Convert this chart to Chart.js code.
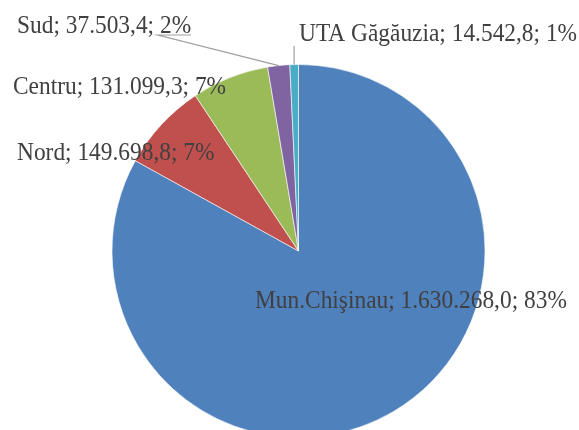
<!DOCTYPE html>
<html>
<head>
<meta charset="utf-8">
<script src="https://cdn.jsdelivr.net/npm/chart.js@4"></script>
<style>
  html, body { margin: 0; padding: 0; background: #fff; overflow: hidden; }
  #wrap { width: 579px; height: 430px; overflow: hidden; }
</style>
</head>
<body>
<div id="wrap"><canvas id="pie" width="579" height="450"></canvas></div>
<script>
// data
const regiuni = ['Mun.Chişinau', 'Nord', 'Centru', 'Sud', 'UTA Găgăuzia'];
const valori = [1630268.0, 149698.8, 131099.3, 37503.4, 14542.8];
const valoriText = ['1.630.268,0', '149.698,8', '131.099,3', '37.503,4', '14.542,8'];
const procente = ['83%', '7%', '7%', '2%', '1%'];
const culori = ['#4f81bd', '#c0504d', '#9bbb59', '#8064a2', '#4bacc6'];

// label placement (left x, baseline y), leader style
const pozitii = [
    { x: 255, y: 308, leader: false },
    { x: 17, y: 160, leader: false },
    { x: 13, y: 94, leader: false },
    { x: 17, y: 33, leader: 'under' },
    { x: 299, y: 41, leader: 'side' }
];

const eticheteProprii = {
    id: 'eticheteProprii',
    afterDatasetsDraw(chart) {
        const ctx = chart.ctx;
        const meta = chart.getDatasetMeta(0);
        const sy = 1.1; // text looks slightly taller in the source
        ctx.save();
        ctx.font = "23.4px 'Liberation Serif', 'Times New Roman', serif";
        ctx.textBaseline = 'alphabetic';
        meta.data.forEach((arc, i) => {
            const p = pozitii[i];
            const txt = `${regiuni[i]}; ${valoriText[i]}; ${procente[i]}`;
            ctx.save();
            ctx.fillStyle = '#404040';
            ctx.translate(p.x, p.y);
            ctx.scale(1, sy);
            ctx.fillText(txt, 0, 0);
            ctx.restore();

            const { x, y, startAngle, endAngle, outerRadius } = arc.getProps(
                ['x', 'y', 'startAngle', 'endAngle', 'outerRadius'], true);
            const mid = (startAngle + endAngle) / 2;
            const ax = x + Math.cos(mid) * outerRadius;
            const ay = y + Math.sin(mid) * outerRadius;

            ctx.strokeStyle = '#a0a0a0';
            ctx.lineWidth = 1.2;
            if (p.leader === 'under') {
                const w = ctx.measureText(txt).width;
                const w2 = ctx.measureText(procente[i]).width;
                const ly = p.y + 2;
                ctx.beginPath();
                ctx.moveTo(p.x + w, ly);
                ctx.lineTo(p.x + w - w2 - 2, ly);
                ctx.lineTo(ax, ay);
                ctx.stroke();
            } else if (p.leader === 'side') {
                ctx.beginPath();
                ctx.moveTo(ax, p.y + 5);
                ctx.lineTo(ax, ay);
                ctx.stroke();
            }
        });
        ctx.restore();
    }
};

new Chart(document.getElementById('pie'), {
    type: 'pie',
    data: {
        labels: regiuni,
        datasets: [{
            data: valori,
            backgroundColor: culori,
            borderColor: 'rgba(255,255,255,0.6)',
            borderWidth: 1
        }]
    },
    options: {
        responsive: false,
        animation: false,
        layout: { padding: { top: 64, bottom: 12, left: 111, right: 93 } },
        plugins: {
            legend: { display: false },
            tooltip: { enabled: false }
        }
    },
    plugins: [eticheteProprii]
});
</script>
</body>
</html>
